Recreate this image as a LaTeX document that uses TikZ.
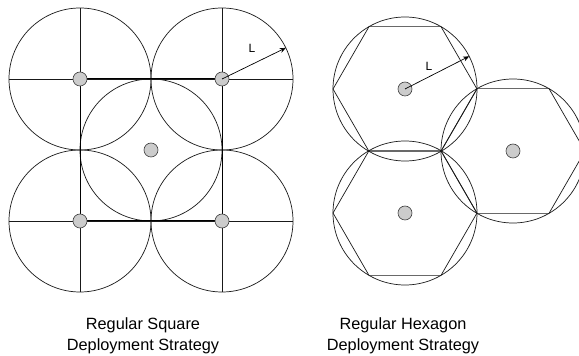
\documentclass[tikz,border=0pt]{standalone}
\usepackage{fontspec}
\setmainfont{Liberation Sans}
\usetikzlibrary{arrows.meta}

\begin{document}
\begin{tikzpicture}[x=1pt,y=1pt,
	declare function={
		R = 71;
		H = 72;
		sqL = 80;
		sqR = 222;
		sqB = 135;
		sqT = 277;
	},
	sensor/.style={circle,draw=black!75,fill=black!20,line width=0.6pt,minimum size=14pt,inner sep=0pt},
	rangeline/.style={draw=black!90,line width=0.7pt},
	caption/.style={align=center,font=\fontsize{16.3}{21.5}\selectfont},
	radius label/.style={font=\fontsize{12}{12}\selectfont}
	]
	\useasboundingbox (0,0) rectangle (579,356);
	% square strategy
	\foreach \cx/\cy in {sqL/sqT,sqR/sqT,sqL/sqB,sqR/sqB,151/206}{
		\draw[rangeline] (\cx,\cy) circle (R);
	}
	\foreach \v in {sqL,sqR}{
		\draw[rangeline] (\v,sqB-R) -- (\v,sqT+R);
	}
	\foreach \h in {sqB,sqT}{
		\draw[rangeline] (sqL-R,\h) -- (sqR+R,\h);
	}
	\draw[line width=1pt] (sqL,sqB) rectangle (sqR,sqT);
	\node[sensor] (s1) at (sqL,sqT) {};
	\node[sensor] (s2) at (sqR,sqT) {};
	\node[sensor] (s3) at (sqL,sqB) {};
	\node[sensor] (s4) at (sqR,sqB) {};
	\node[sensor] (s5) at (151,206) {};
	\path (s2.center) ++(26:R) coordinate (tipA);
	\draw[line width=0.7pt,-{Stealth[length=6pt,width=5pt]}] (s2.center) -- (tipA);
	\node[radius label] (lA) at (252,308) {L};
	% hexagon strategy
	\foreach \cx/\cy in {405/267,405/143,513/205}{
		\draw[rangeline] (\cx,\cy) circle (H);
		\draw[rangeline] (\cx,\cy) +(0:H) -- +(60:H) -- +(120:H) -- +(180:H) -- +(240:H) -- +(300:H) -- cycle;
	}
	\node[sensor] (h1) at (405,267) {};
	\node[sensor] (h2) at (405,143) {};
	\node[sensor] (h3) at (513,205) {};
	\path (h1.center) ++(27:H) coordinate (tipB);
	\draw[line width=0.7pt,-{Stealth[length=6pt,width=5pt]}] (h1.center) -- (tipB);
	\node[radius label] (lB) at (429,290) {L};
	% captions
	\node[caption] (capA) at (143,20) {Regular Square\\Deployment Strategy};
	\node[caption] (capB) at (403,20) {Regular Hexagon\\Deployment Strategy};
\end{tikzpicture}
\end{document}
